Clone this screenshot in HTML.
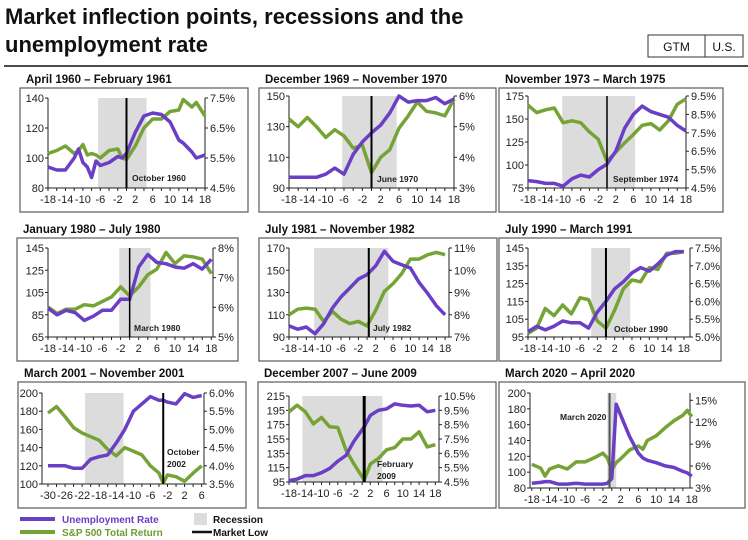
<!DOCTYPE html>
<html><head><meta charset="utf-8"><style>
body{margin:0;background:#fff;}
svg{display:block;font-family:"Liberation Sans",sans-serif;}
</style></head><body>
<svg id="chart" width="748" height="540" viewBox="0 0 748 540">
<text x="5" y="24" font-size="22" font-weight="bold" fill="#111">Market inflection points, recessions and the</text>
<text x="5" y="52" font-size="22" font-weight="bold" fill="#111">unemployment rate</text>
<line x1="4" y1="66" x2="748" y2="66" stroke="#111" stroke-width="1.5"/>
<g><rect x="648" y="35" width="57" height="22" fill="#fff" stroke="#333"/><text x="676.5" y="51" font-size="12" text-anchor="middle" fill="#111">GTM</text></g>
<g><rect x="705" y="35" width="38" height="22" fill="#fff" stroke="#333"/><text x="724" y="51" font-size="12" text-anchor="middle" fill="#111">U.S.</text></g>
<g>
<line x1="20" y1="519" x2="55" y2="519" stroke="#6a3fc6" stroke-width="4"/>
<text x="62" y="523" font-size="10" font-weight="bold" fill="#6a3fc6">Unemployment Rate</text>
<line x1="20" y1="532" x2="55" y2="532" stroke="#76a335" stroke-width="4"/>
<text x="62" y="536" font-size="10" font-weight="bold" fill="#6f9a32">S&amp;P 500 Total Return</text>
<rect x="194" y="513" width="13" height="12" fill="#dcdcdc"/>
<text x="213" y="523" font-size="10" font-weight="bold" fill="#111">Recession</text>
<line x1="192" y1="532" x2="212" y2="532" stroke="#111" stroke-width="2.5"/>
<text x="213" y="536" font-size="10" font-weight="bold" fill="#111">Market Low</text>
</g>
</svg>
<script>
// ---- Panel 1: April 1960 – February 1961
const p1Months=[-18,-16,-14,-12,-11,-10,-9,-8,-7,-6,-4,-2,-1,0,2,4,6,8,10,12,13,15,16,18];
const p1Sp500=[103,105,108,103,105,109,102,103,102,100,105,106,100,99,108,120,126,126,131,132,139,134,137,128];
const p1Unemp=[5.2,5.1,5.1,5.5,5.8,5.35,5.2,4.85,5.4,5.25,5.35,5.55,5.5,5.65,6.35,6.9,7.0,6.95,6.7,6.1,6.0,5.7,5.5,5.6];
const p1LeftTicks=[80,100,120,140];
const p1RightTicks=[4.5,5.5,6.5,7.5];
// ---- Panel 2
const p2Months=[-18,-16,-14,-12,-10,-8,-6,-4,-2,0,2,4,6,8,10,12,14,16,18];
const p2Sp500=[135,130,136,130,123,128,124,116,118,100,110,115,129,137,146,140,139,137,148];
const p2Unemp=[3.35,3.35,3.35,3.35,3.45,3.65,3.45,4.1,4.5,4.8,5.05,5.45,6.0,5.8,5.85,5.85,5.95,5.75,5.9];
const p2LeftTicks=[90,110,130,150];
const p2RightTicks=[3,4,5,6];
// ---- Panel 3
const p3Months=[-18,-16,-14,-12,-10,-8,-6,-4,-2,0,2,4,6,8,10,12,14,16,18];
const p3Sp500=[165,157,160,162,146,148,146,136,128,104,114,124,133,143,145,138,148,166,172];
const p3Unemp=[4.9,4.85,4.75,4.75,4.6,5.0,5.2,5.1,5.5,5.8,6.5,7.75,8.5,8.95,8.65,8.5,8.35,7.9,7.6];
const p3LeftTicks=[75,100,125,150,175];
const p3RightTicks=[4.5,5.5,6.5,7.5,8.5,9.5];
// ---- Panel 4
const p4Months=[-18,-16,-14,-12,-10,-8,-6,-4,-2,0,2,4,6,8,10,12,14,16,18];
const p4Sp500=[92,86,90,90,94,93,97,101,110,102,110,121,126,141,131,138,137,135,122];
const p4Unemp=[5.97,5.75,5.9,5.82,5.56,5.7,5.9,5.9,6.27,6.27,7.36,7.78,7.51,7.47,7.36,7.32,7.47,7.29,7.62];
const p4LeftTicks=[65,85,105,125,145];
const p4RightTicks=[5,6,7,8];
// ---- Panel 5
const p5Months=[-18,-16,-14,-12,-10,-8,-6,-4,-2,0,2,4,6,8,10,12,14,16,18];
const p5Sp500=[110,115,116,115,104,113,106,102,104,100,114,131,138,147,160,160,164,166,164];
const p5Unemp=[7.5,7.35,7.45,7.15,7.6,8.3,8.8,9.2,9.6,9.8,10.2,10.85,10.4,10.25,10.1,9.45,8.95,8.4,8.0];
const p5LeftTicks=[90,110,130,150,170];
const p5RightTicks=[7,8,9,10,11];
// ---- Panel 6
const p6Months=[-18,-16,-14,-12,-10,-8,-6,-4,-2,0,2,4,6,8,10,12,14,16,18];
const p6Sp500=[97,100,111,107,113,108,117,116,104,100,110,122,127,126,134,133,142,142,143];
const p6Unemp=[5.15,5.3,5.2,5.3,5.45,5.4,5.4,5.25,5.7,6.0,6.35,6.55,6.8,6.95,6.85,7.05,7.3,7.4,7.4];
const p6LeftTicks=[95,105,115,125,135,145];
const p6RightTicks=[5.0,5.5,6.0,6.5,7.0,7.5];
// ---- Panel 7
const p7Months=[-30,-28,-26,-24,-22,-20,-18,-16,-14,-12,-10,-8,-6,-4,-3,-2,0,2,4,6];
const p7Sp500=[178,185,174,162,156,152,148,138,131,140,136,132,120,112,101,110,108,103,112,120];
const p7Unemp=[4.0,4.0,4.0,3.93,3.93,4.18,4.25,4.3,4.63,5.0,5.5,5.7,5.9,5.8,5.8,5.75,5.7,5.98,5.88,5.93];
const p7LeftTicks=[100,120,140,160,180,200];
const p7RightTicks=[3.5,4.0,4.5,5.0,5.5,6.0];
// ---- Panel 8
const p8Months=[-18,-16,-14,-12,-10,-8,-6,-4,-2,0.5,2,4,6,8,10,12,14,16,18];
const p8Sp500=[193,202,193,176,185,172,171,140,120,98,120,128,140,143,155,155,165,144,147];
const p8Unemp=[4.6,4.7,4.95,4.95,5.15,5.45,5.95,6.35,7.35,8.35,9.15,9.5,9.6,9.95,9.85,9.8,9.85,9.4,9.5];
const p8LeftTicks=[95,115,135,155,175,195,215];
const p8RightTicks=[4.5,5.5,6.5,7.5,8.5,9.5,10.5];
// ---- Panel 9
const p9Months=[-18,-16,-15,-14,-12,-10,-8,-6,-4,-2,-1,0,1,2,4,6,7,8,10,12,14,16,17,18];
const p9Sp500=[110,105,95,104,108,104,113,113,118,124,118,103,112,117,128,133,129,140,146,156,165,172,178,170];
const p9Unemp=[3.65,3.76,3.87,3.87,3.54,3.54,3.65,3.54,3.54,3.54,3.65,4.3,14.47,12.96,10.03,7.76,7.11,6.79,6.46,6.03,5.81,5.27,5.06,4.62];
const p9LeftTicks=[80,100,120,140,160,180,200];
const p9RightTicks=[3,6,9,12,15];

const xTicks18=[-18,-14,-10,-6,-2,2,6,10,14,18];
const xTicks30=[-30,-26,-22,-18,-14,-10,-6,-2,2,6];

const panels=[
 {id:'p1',title:'April 1960 – February 1961',box:[20,88,228,124],plot:[48,98,205,188],xd:[-18,18],ld:[80,140],rd:[4.5,7.5],rdec:1,lt:p1LeftTicks,rt:p1RightTicks,xt:xTicks18,m:p1Months,g:p1Sp500,u:p1Unemp,rec:[-6.5,4.6],low:0,lab:['October 1960'],lx:132,ly:181},
 {id:'p2',title:'December 1969 – November 1970',box:[259,88,237,124],plot:[289,96,454,188],xd:[-18,18],ld:[90,150],rd:[3,6],rdec:0,lt:p2LeftTicks,rt:p2RightTicks,xt:xTicks18,m:p2Months,g:p2Sp500,u:p2Unemp,rec:[-6.4,5.5],low:0,lab:['June 1970'],lx:377,ly:182},
 {id:'p3',title:'November 1973 – March 1975',box:[499,88,224,124],plot:[528,96,686,188],xd:[-18,18],ld:[75,175],rd:[4.5,9.5],rdec:1,lt:p3LeftTicks,rt:p3RightTicks,xt:xTicks18,m:p3Months,g:p3Sp500,u:p3Unemp,rec:[-10.2,6.4],low:0,lowW:1.5,lab:['September 1974'],lx:613,ly:182},
 {id:'p4',title:'January 1980 – July 1980',box:[17,238,221,123],plot:[48,248,213,337],xd:[-18,18.37],ld:[65,145],rd:[5,8],rdec:0,lt:p4LeftTicks,rt:p4RightTicks,xt:xTicks18,m:p4Months,g:p4Sp500,u:p4Unemp,rec:[-2.3,4.6],low:0,lowW:1.5,lab:['March 1980'],lx:134,ly:331},
 {id:'p5',title:'July 1981 – November 1982',box:[259,238,238,123],plot:[289,248,449,337],xd:[-18,18.9],ld:[90,170],rd:[7,11],rdec:0,lt:p5LeftTicks,rt:p5RightTicks,xt:xTicks18,m:p5Months,g:p5Sp500,u:p5Unemp,rec:[-12.2,4.9],low:0.4,lab:['July 1982'],lx:373,ly:331},
 {id:'p6',title:'July 1990 – March 1991',box:[499,238,222,123],plot:[528,248,690,337],xd:[-18,19.4],ld:[95,145],rd:[5,7.5],rdec:1,lt:p6LeftTicks,rt:p6RightTicks,xt:xTicks18,m:p6Months,g:p6Sp500,u:p6Unemp,rec:[-3.4,5.6],low:0,lab:['October 1990'],lx:614,ly:332},
 {id:'p7',title:'March 2001 – November 2001',box:[18,382,228,126],plot:[42,393,204,484],xd:[-31.4,6.55],ld:[100,200],rd:[3.5,6.0],rdec:1,lt:p7LeftTicks,rt:p7RightTicks,xt:xTicks30,m:p7Months,g:p7Sp500,u:p7Unemp,rec:[-21.3,-12.3],low:-3,lab:['October','2002'],lx:167,ly:455},
 {id:'p8',title:'December 2007 – June 2009',box:[258,382,238,126],plot:[289,396,439,482],xd:[-18,18.9],ld:[95,215],rd:[4.5,10.5],rdec:1,lt:p8LeftTicks,rt:p8RightTicks,xt:xTicks18,m:p8Months,g:p8Sp500,u:p8Unemp,rec:[-14.7,5.0],low:0.5,lowW:3,lab:['February','2009'],lx:377,ly:467},
 {id:'p9',title:'March 2020 – April 2020',box:[499,382,246,126],plot:[530,393,690,488],xd:[-18.4,17.6],ld:[80,200],rd:[3,16],rdec:0,lt:p9LeftTicks,rt:p9RightTicks,xt:xTicks18,m:p9Months,g:p9Sp500,u:p9Unemp,rec:[-1,1],low:-0.5,lowC:'#555',lab:['March 2020'],lx:560,ly:420}
];

const NS='http://www.w3.org/2000/svg';
const svg=document.getElementById('chart');
function mk(tag,attrs,parent){const e=document.createElementNS(NS,tag);for(const k in attrs)e.setAttribute(k,attrs[k]);(parent||svg).appendChild(e);return e;}

panels.forEach(p=>{
 const [L,T,R,B]=p.plot;
 const sx=v=>L+(v-p.xd[0])/(p.xd[1]-p.xd[0])*(R-L);
 const sl=v=>B-(v-p.ld[0])/(p.ld[1]-p.ld[0])*(B-T);
 const sr=v=>B-(v-p.rd[0])/(p.rd[1]-p.rd[0])*(B-T);
 const g=mk('g',{});
 
 
 const box=mk('rect',{x:p.box[0],y:p.box[1],width:p.box[2],height:p.box[3],fill:'#fff',stroke:'#666','stroke-width':1.3},g);
 
 
 const t=mk('text',{x:p.box[0]+6,y:p.box[1]-5,'font-size':11.5,'font-weight':'bold',fill:'#111'},g);
 t.textContent=p.title;
 
 
 const rec=mk('rect',{x:sx(p.rec[0]),y:T,width:sx(p.rec[1])-sx(p.rec[0]),height:B-T,fill:'#dcdcdc'},g);
 
 
 // axes
 mk('line',{x1:L,y1:T,x2:L,y2:B,stroke:'#222','stroke-width':1},g);
 mk('line',{x1:R,y1:T,x2:R,y2:B,stroke:'#222','stroke-width':1},g);
 mk('line',{x1:L,y1:B,x2:R,y2:B,stroke:'#222','stroke-width':1},g);
 p.lt.forEach(v=>{const y=sl(v);mk('line',{x1:L-3,y1:y,x2:L,y2:y,stroke:'#222'},g);
  const tx=mk('text',{x:L-4,y:y+4,'font-size':11,'text-anchor':'end',fill:'#222'},g);tx.textContent=v;
  
  });
 p.rt.forEach(v=>{const y=sr(v);mk('line',{x1:R,y1:y,x2:R+3,y2:y,stroke:'#222'},g);
  const tx=mk('text',{x:R+5,y:y+4,'font-size':11,fill:'#222'},g);tx.textContent=v.toFixed(p.rdec)+'%';
  
  });
 const step=2;
 for(let v=Math.ceil(p.xd[0]/2)*2;v<=p.xd[1];v+=step){const x=sx(v);mk('line',{x1:x,y1:B,x2:x,y2:B+3,stroke:'#222'},g);}
 p.xt.forEach(v=>{const tx=mk('text',{x:sx(v),y:B+15,'font-size':11,'text-anchor':'middle',fill:'#222'},g);tx.textContent=v;
  
  });
 // series
 const gp=p.m.map((m,i)=>sx(m).toFixed(1)+','+sl(p.g[i]).toFixed(1)).join(' ');
 const gl=mk('polyline',{points:gp,fill:'none',stroke:'#76a335','stroke-width':3.5,'stroke-linejoin':'round'},g);
 
 
 const up=p.m.map((m,i)=>sx(m).toFixed(1)+','+sr(p.u[i]).toFixed(1)).join(' ');
 const ul=mk('polyline',{points:up,fill:'none',stroke:'#6a3fc6','stroke-width':3.5,'stroke-linejoin':'round'},g);
 
 
 const lw=mk('line',{x1:sx(p.low),y1:T,x2:sx(p.low),y2:B,stroke:p.lowC||'#000','stroke-width':p.lowW||2},g);
 
 
 p.lab.forEach((s,i)=>{const tx=mk('text',{x:p.lx,y:p.ly+i*12,'font-size':8.5,'font-weight':'bold',fill:'#222'},g);tx.textContent=s;
  
  });
});
</script>
</body></html>
